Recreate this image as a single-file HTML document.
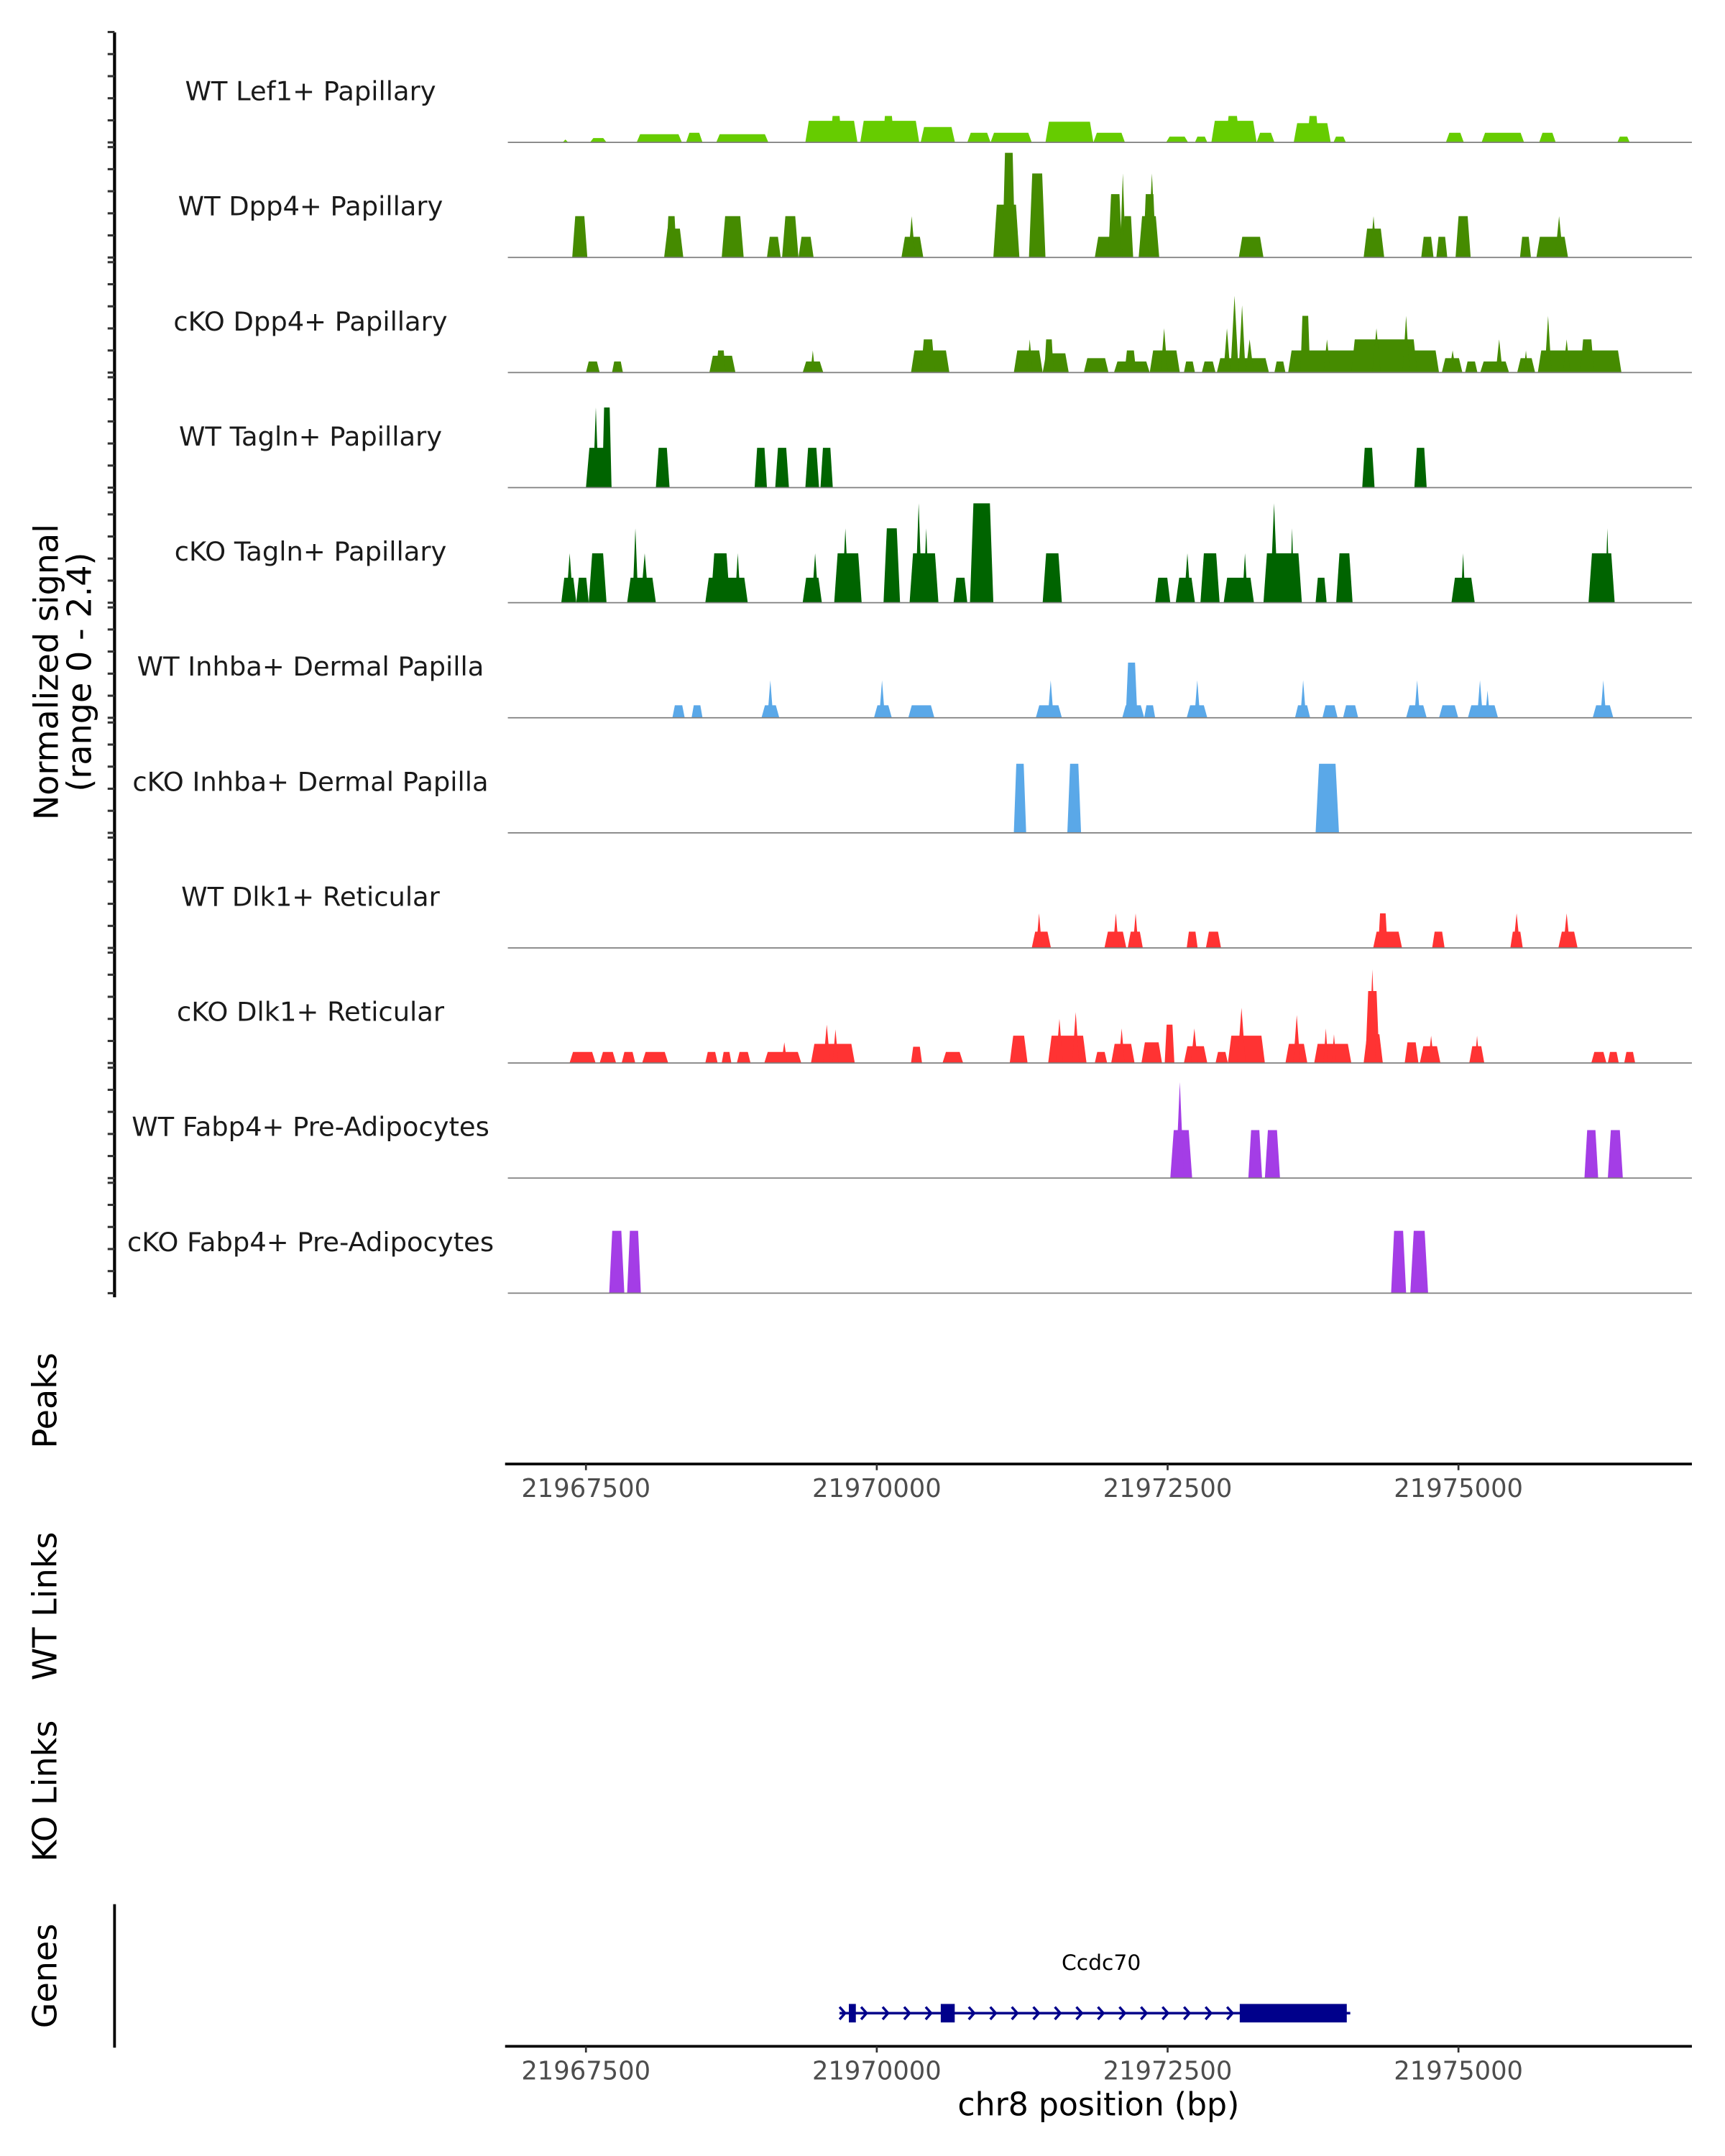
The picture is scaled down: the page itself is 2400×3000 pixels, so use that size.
<!DOCTYPE html>
<html><head><meta charset="utf-8">
<style>
html,body{margin:0;padding:0;background:#fff;}
svg{display:block;font-family:"DejaVu Sans","Liberation Sans",sans-serif;}
</style></head>
<body>
<svg id="chart" xmlns="http://www.w3.org/2000/svg" width="2400" height="3000" viewBox="0 0 1250 1562.5">
  <rect x="0" y="0" width="1250" height="1562.5" fill="#fff"/>
  <g id="tracks"></g>
  <g id="leftaxis"></g>
  <text transform="translate(42,487) rotate(-90)" text-anchor="middle" font-size="24" fill="#000">Normalized signal</text>
  <text transform="translate(66,487) rotate(-90)" text-anchor="middle" font-size="24" fill="#000">(range 0 - 2.4)</text>
  <text transform="translate(41,1015) rotate(-90)" text-anchor="middle" font-size="24" fill="#000">Peaks</text>
  <text transform="translate(41,1164) rotate(-90)" text-anchor="middle" font-size="24" fill="#000">WT Links</text>
  <text transform="translate(41,1298) rotate(-90)" text-anchor="middle" font-size="24" fill="#000">KO Links</text>
  <text transform="translate(41,1432) rotate(-90)" text-anchor="middle" font-size="24" fill="#000">Genes</text>
  <line x1="83" y1="1380" x2="83" y2="1484" stroke="#000" stroke-width="2"/>
  <g id="axes"></g>
  <g id="genes"></g>
  <text x="796" y="1533" text-anchor="middle" font-size="23" fill="#000">chr8 position (bp)</text>
</svg>
<script>
// ---------- data ----------
const trackNames = ["WT Lef1+ Papillary","WT Dpp4+ Papillary","cKO Dpp4+ Papillary","WT Tagln+ Papillary","cKO Tagln+ Papillary","WT Inhba+ Dermal Papilla","cKO Inhba+ Dermal Papilla","WT Dlk1+ Reticular","cKO Dlk1+ Reticular","WT Fabp4+ Pre-Adipocytes","cKO Fabp4+ Pre-Adipocytes"];
const trackColors = ["#66CC00","#458B00","#458B00","#006400","#006400","#5AA8E8","#5AA8E8","#FF3333","#FF3333","#A43DE6","#A43DE6"];
const xTicks = [21967500,21970000,21972500,21975000];
const xTickLabels = ["21967500","21970000","21972500","21975000"];
// peaks: [startBp, endBp, signal]
const lef1WT = [[21967300,21967347,0.06],[21967535,21967677,0.09],[21967936,21968325,0.17],[21968361,21968502,0.2],[21968620,21969068,0.17],[21969386,21969834,0.45],[21969600,21969700,0.55],[21969858,21970365,0.45],[21970050,21970150,0.55],[21970377,21970672,0.32],[21970778,21970978,0.2],[21970978,21971332,0.2],[21971450,21971862,0.43],[21971862,21972133,0.2],[21972487,21972676,0.12],[21972735,21972841,0.12],[21972876,21973265,0.45],[21973000,21973120,0.55],[21973265,21973418,0.2],[21973584,21973902,0.4],[21973700,21973800,0.55],[21973926,21974032,0.12],[21974892,21975046,0.2],[21975199,21975564,0.2],[21975694,21975836,0.2],[21976366,21976472,0.12]];
const dpp4WT = [[21967382,21967512,0.86],[21968172,21968337,0.6],[21968190,21968280,0.86],[21968667,21968856,0.86],[21969056,21969174,0.43],[21969186,21969327,0.86],[21969327,21969457,0.43],[21970212,21970400,0.43],[21970270,21970330,0.86],[21971002,21971226,1.1],[21971080,21971190,2.18],[21971308,21971450,1.75],[21971874,21972204,0.43],[21971990,21972110,1.32],[21972090,21972140,1.75],[21972110,21972204,0.86],[21972251,21972428,0.86],[21972290,21972400,1.32],[21972330,21972400,1.75],[21973112,21973324,0.43],[21974185,21974362,0.6],[21974240,21974300,0.86],[21974680,21974786,0.43],[21974810,21974904,0.43],[21974975,21975105,0.86],[21975529,21975623,0.43],[21975670,21975942,0.43],[21975830,21975900,0.86]];
const dpp4KO = [[21967500,21967618,0.23],[21967724,21967818,0.23],[21968561,21968785,0.35],[21968620,21968700,0.46],[21969363,21969540,0.23],[21969430,21969470,0.46],[21970294,21970624,0.46],[21970380,21970500,0.69],[21971178,21971426,0.46],[21971290,21971340,0.69],[21971426,21971650,0.4],[21971440,21971520,0.69],[21971780,21971992,0.3],[21972039,21972346,0.23],[21972130,21972230,0.46],[21972346,21972605,0.46],[21972440,21972500,0.92],[21972640,21972735,0.23],[21972794,21972912,0.23],[21972923,21973371,0.3],[21972980,21973040,0.92],[21973040,21973110,1.6],[21973110,21973170,1.4],[21973170,21973240,0.69],[21973418,21973513,0.23],[21973536,21974833,0.46],[21973642,21973725,1.18],[21973840,21973900,0.69],[21974079,21974645,0.69],[21974520,21974580,1.18],[21974260,21974330,0.92],[21974857,21975034,0.3],[21974920,21974980,0.46],[21975057,21975163,0.23],[21975187,21975435,0.23],[21975320,21975380,0.69],[21975505,21975659,0.3],[21975560,21975600,0.46],[21975682,21976401,0.46],[21975741,21975800,1.18],[21975900,21975960,0.69],[21976048,21976166,0.69]];
const taglnWT = [[21967500,21967720,0.83],[21967560,21967610,1.67],[21967640,21967720,1.67],[21968101,21968219,0.83],[21968950,21969056,0.83],[21969127,21969245,0.83],[21969386,21969504,0.83],[21969516,21969622,0.83],[21974173,21974279,0.83],[21974621,21974727,0.83]];
const taglnKO = [[21967288,21967417,0.52],[21967330,21967390,1.03],[21967417,21967524,0.52],[21967524,21967677,1.03],[21967854,21968101,0.52],[21967900,21967950,1.55],[21967970,21968040,1.03],[21968526,21968891,0.52],[21968573,21968738,1.03],[21968780,21968830,1.03],[21969363,21969528,0.52],[21969440,21969500,1.03],[21969634,21969870,1.03],[21969700,21969760,1.55],[21970058,21970200,1.55],[21970282,21970530,1.03],[21970330,21970390,2.07],[21970400,21970450,1.55],[21970660,21970778,0.52],[21970801,21971002,2.07],[21971426,21971591,1.03],[21972393,21972523,0.52],[21972570,21972735,0.52],[21972640,21972700,1.03],[21972782,21972947,1.03],[21972982,21973242,0.52],[21973140,21973190,1.03],[21973324,21973654,1.03],[21973380,21973450,2.07],[21973550,21973590,1.55],[21973772,21973867,0.52],[21973949,21974090,1.03],[21974940,21975140,0.52],[21975020,21975060,1.03],[21976118,21976343,1.03],[21976260,21976300,1.55]];
const inhbaWT = [[21968243,21968349,0.26],[21968408,21968502,0.26],[21969009,21969162,0.26],[21969060,21969110,0.78],[21969976,21970129,0.26],[21970020,21970070,0.78],[21970271,21970495,0.26],[21971367,21971591,0.26],[21971470,21971520,0.78],[21972110,21972299,0.26],[21972140,21972240,1.15],[21972299,21972393,0.26],[21972664,21972841,0.26],[21972730,21972780,0.78],[21973595,21973725,0.26],[21973640,21973690,0.78],[21973831,21973961,0.26],[21974008,21974138,0.26],[21974550,21974727,0.26],[21974620,21974670,0.78],[21974833,21974998,0.26],[21975081,21975340,0.26],[21975160,21975210,0.78],[21975230,21975270,0.57],[21976154,21976331,0.26],[21976220,21976270,0.78]];
const inhbaKO = [[21971178,21971284,1.44],[21971638,21971756,1.44],[21973772,21973973,1.44]];
const dlk1WT = [[21971332,21971497,0.34],[21971370,21971420,0.72],[21971957,21972145,0.34],[21972030,21972080,0.72],[21972157,21972287,0.34],[21972200,21972250,0.72],[21972664,21972758,0.34],[21972829,21972959,0.34],[21974267,21974515,0.34],[21974310,21974390,0.72],[21974774,21974881,0.34],[21975446,21975553,0.34],[21975470,21975530,0.72],[21975859,21976024,0.34],[21975900,21975960,0.72]];
const dlk1KO = [[21967359,21967583,0.23],[21967618,21967759,0.23],[21967807,21967924,0.23],[21967983,21968207,0.23],[21968526,21968632,0.23],[21968667,21968750,0.23],[21968797,21968915,0.23],[21969033,21969351,0.23],[21969180,21969230,0.43],[21969434,21969811,0.4],[21969540,21969600,0.8],[21969620,21969670,0.7],[21970294,21970389,0.34],[21970565,21970742,0.23],[21971143,21971296,0.57],[21971473,21971803,0.57],[21971540,21971600,0.92],[21971680,21971740,1.06],[21971874,21971980,0.23],[21972015,21972216,0.4],[21972080,21972130,0.72],[21972275,21972452,0.43],[21972475,21972558,0.8],[21972640,21972841,0.35],[21972700,21972760,0.72],[21972912,21973018,0.23],[21973018,21973336,0.57],[21973100,21973170,1.15],[21973513,21973701,0.4],[21973580,21973640,1.0],[21973760,21974079,0.4],[21973840,21973880,0.72],[21973910,21973950,0.6],[21974185,21974350,0.6],[21974200,21974320,1.5],[21974230,21974290,1.95],[21974538,21974656,0.43],[21974668,21974845,0.35],[21974740,21974790,0.57],[21975093,21975222,0.35],[21975140,21975180,0.57],[21976142,21976272,0.23],[21976284,21976378,0.23],[21976425,21976519,0.23]];
const fabp4WT = [[21972523,21972711,1.0],[21972570,21972640,2.0],[21973194,21973312,1.0],[21973336,21973466,1.0],[21976083,21976201,1.0],[21976284,21976413,1.0]];
const fabp4KO = [[21967700,21967830,1.3],[21967854,21967972,1.3],[21974421,21974550,1.3],[21974586,21974739,1.3]];
const trackData = [lef1WT,dpp4WT,dpp4KO,taglnWT,taglnKO,inhbaWT,inhbaKO,dlk1WT,dlk1KO,fabp4WT,fabp4KO];
const geneName = ["Ccdc70"];
const geneSpan = [21969680, 21974070];
const geneExons = [[21969760,21969820],[21970550,21970670],[21973120,21974040]];

// ---------- scales ----------
const NS = "http://www.w3.org/2000/svg";
const X0 = 368, X1 = 1226;
function xScale(bp){ return 424.6 + (bp - 21967500) * 0.0843; }
const PITCH = 83.4, FIRST_BASE = 103.2, PX_PER_UNIT = 34.8;
function baseY(i){ return FIRST_BASE + i * PITCH; }
function yScale(i, v){ return baseY(i) - v * PX_PER_UNIT; }
function mk(tag, attrs, parent){
  const el = document.createElementNS(NS, tag);
  for (const k in attrs) el.setAttribute(k, attrs[k]);
  parent.appendChild(el);
  return el;
}

// ---------- tracks ----------
const tg = document.getElementById('tracks');
trackNames.forEach((name, i) => {
  const g = mk('g', {}, tg);
  
  
  const lab = mk('text', {x: 225, y: baseY(i) - 30.5, 'text-anchor': 'middle', 'font-size': 19.2, fill: '#1a1a1a'}, g);
  lab.textContent = name;
  
  
  trackData[i].forEach(p => {
    const xs = xScale(p[0]), xe = xScale(p[1]);
    const w = xe - xs;
    const sl = Math.min(w * 0.2, 2.5);
    const b = baseY(i), t = yScale(i, p[2]);
    const pts = w < 6
      ? `${xs},${b} ${(xs+xe)/2},${t} ${xe},${b}`
      : `${xs},${b} ${xs+sl},${t} ${xe-sl},${t} ${xe},${b}`;
    const poly = mk('polygon', {points: pts, fill: trackColors[i]}, g);
    
    
  });
  const bl = mk('line', {x1: X0, x2: X1, y1: baseY(i), y2: baseY(i), stroke: '#7f7f7f', 'stroke-width': 0.9}, g);
  
  
});

// ---------- left axis ----------
const la = document.getElementById('leftaxis');
const ax = mk('line', {x1: 83, x2: 83, y1: 23.5, y2: baseY(10) + 3, stroke: '#000', 'stroke-width': 2.2}, la);


for (let i = 0; i < trackNames.length; i++) {
  for (let k = 0; k <= 5; k++) {
    const y = baseY(i) - 80 + 16 * k;
    const tk = mk('line', {x1: 78, x2: 83, y1: y, y2: y, stroke: '#333', 'stroke-width': 1.6}, la);
    
    
  }
}

// ---------- x axes ----------
const axg = document.getElementById('axes');
[1061, 1483].forEach((ay, n) => {
  const l = mk('line', {x1: 366, x2: X1, y1: ay, y2: ay, stroke: '#000', 'stroke-width': 2}, axg);
  
  
  xTicks.forEach((t, j) => {
    const x = xScale(t);
    const tk = mk('line', {x1: x, x2: x, y1: ay, y2: ay + 4.5, stroke: '#333', 'stroke-width': 1.4}, axg);
    
    
    const tx = mk('text', {x: x, y: ay + 24, 'text-anchor': 'middle', 'font-size': 18.4, fill: '#4d4d4d'}, axg);
    tx.textContent = xTickLabels[j];
    
    
  });
});

// ---------- gene ----------
const gg = document.getElementById('genes');
const GY = 1459, GC = '#00008B';
const gl = mk('line', {x1: xScale(geneSpan[0]), x2: xScale(geneSpan[1]), y1: GY, y2: GY, stroke: GC, 'stroke-width': 1.8}, gg);


for (let x = xScale(geneSpan[0]) + 2; x < xScale(geneExons[2][0]) - 2; x += 15.6) {
  const c = mk('polyline', {points: `${x-2},${GY-4.5} ${x+2},${GY} ${x-2},${GY+4.5}`, fill: 'none', stroke: GC, 'stroke-width': 1.8}, gg);
  
  
}
geneExons.forEach(e => {
  const r = mk('rect', {x: xScale(e[0]), y: GY - 6.7, width: xScale(e[1]) - xScale(e[0]), height: 13.4, fill: GC}, gg);
  
  
});
const gt = mk('text', {x: 798, y: 1427.5, 'text-anchor': 'middle', 'font-size': 15.5, fill: '#000'}, gg);
gt.textContent = geneName[0];


</script>
</body></html>
